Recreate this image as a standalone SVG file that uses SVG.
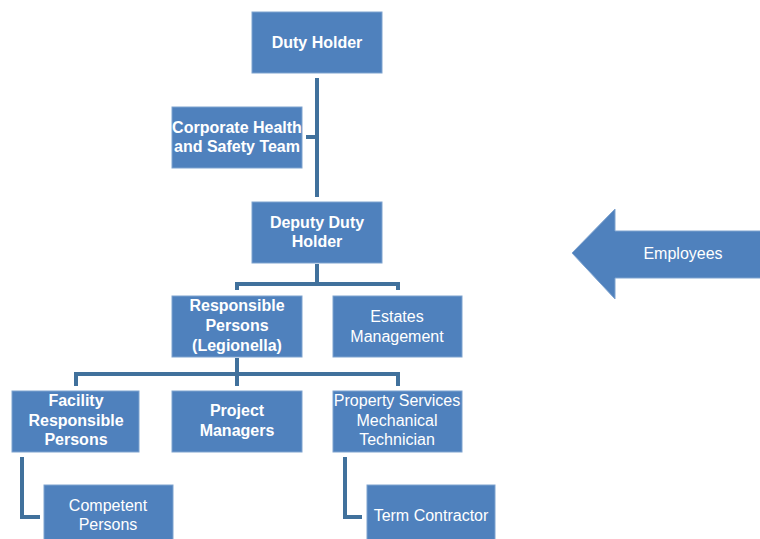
<svg xmlns="http://www.w3.org/2000/svg" width="760" height="539" viewBox="0 0 760 539">
  <style>
    .box { fill: #4f81bd; stroke: #7fa3cf; stroke-width: 1; }
    .lbl { font-family: "Liberation Sans", Arial, sans-serif; font-size: 16px; fill: #ffffff; text-anchor: middle; }
    .b { font-weight: bold; }
    .conn { fill: none; stroke: #41719c; stroke-width: 4; stroke-linejoin: miter; }
  </style>
  <rect width="760" height="539" fill="#ffffff"/>

  <g id="connectors">
    <path class="conn" d="M317,78 V197"/>
    <path class="conn" d="M306,137 H317"/>
    <path class="conn" d="M317,264 V284 M237,290 V284 H398 V290"/>
    <path class="conn" d="M237,358 V386 M76,386 V374 H398 V386"/>
    <path class="conn" d="M22,457 V517 H40"/>
    <path class="conn" d="M345,457 V517 H362"/>
  </g>

  <g id="duty-holder">
    <rect class="box" x="252" y="12" width="130" height="61"/>
    <text class="lbl b" x="317" y="48">Duty Holder</text>
  </g>

  <g id="corporate-health-safety">
    <rect class="box" x="172" y="107" width="130" height="61"/>
    <text class="lbl b" x="237" y="133">Corporate Health</text>
    <text class="lbl b" x="237" y="152">and Safety Team</text>
  </g>

  <g id="deputy-duty-holder">
    <rect class="box" x="252" y="202" width="130" height="61"/>
    <text class="lbl b" x="317" y="228">Deputy Duty</text>
    <text class="lbl b" x="317" y="247">Holder</text>
  </g>

  <g id="responsible-persons">
    <rect class="box" x="172" y="296" width="130" height="61"/>
    <text class="lbl b" x="237" y="311">Responsible</text>
    <text class="lbl b" x="237" y="331">Persons</text>
    <text class="lbl b" x="237" y="351">(Legionella)</text>
  </g>

  <g id="estates-management">
    <rect class="box" x="333" y="296" width="129" height="61"/>
    <text class="lbl" x="397" y="322">Estates</text>
    <text class="lbl" x="397" y="342">Management</text>
  </g>

  <g id="facility-responsible-persons">
    <rect class="box" x="12" y="391" width="127" height="61"/>
    <text class="lbl b" x="76" y="406">Facility</text>
    <text class="lbl b" x="76" y="426">Responsible</text>
    <text class="lbl b" x="76" y="445">Persons</text>
  </g>

  <g id="project-managers">
    <rect class="box" x="172" y="391" width="130" height="61"/>
    <text class="lbl b" x="237" y="416">Project</text>
    <text class="lbl b" x="237" y="436">Managers</text>
  </g>

  <g id="property-services">
    <rect class="box" x="333" y="391" width="129" height="61"/>
    <text class="lbl" x="397" y="406">Property Services</text>
    <text class="lbl" x="397" y="426">Mechanical</text>
    <text class="lbl" x="397" y="445">Technician</text>
  </g>

  <g id="competent-persons">
    <rect class="box" x="44" y="485" width="129" height="61"/>
    <text class="lbl" x="108" y="511">Competent</text>
    <text class="lbl" x="108" y="530">Persons</text>
  </g>

  <g id="term-contractor">
    <rect class="box" x="367" y="485" width="128" height="61"/>
    <text class="lbl" x="431" y="521">Term Contractor</text>
  </g>

  <g id="employees">
    <path d="M572,253 L615,209 V231 H761 V278 H615 V299 Z" fill="#4f81bd" stroke="#7fa3cf" stroke-width="1"/>
    <text class="lbl" x="683" y="259">Employees</text>
  </g>
</svg>
